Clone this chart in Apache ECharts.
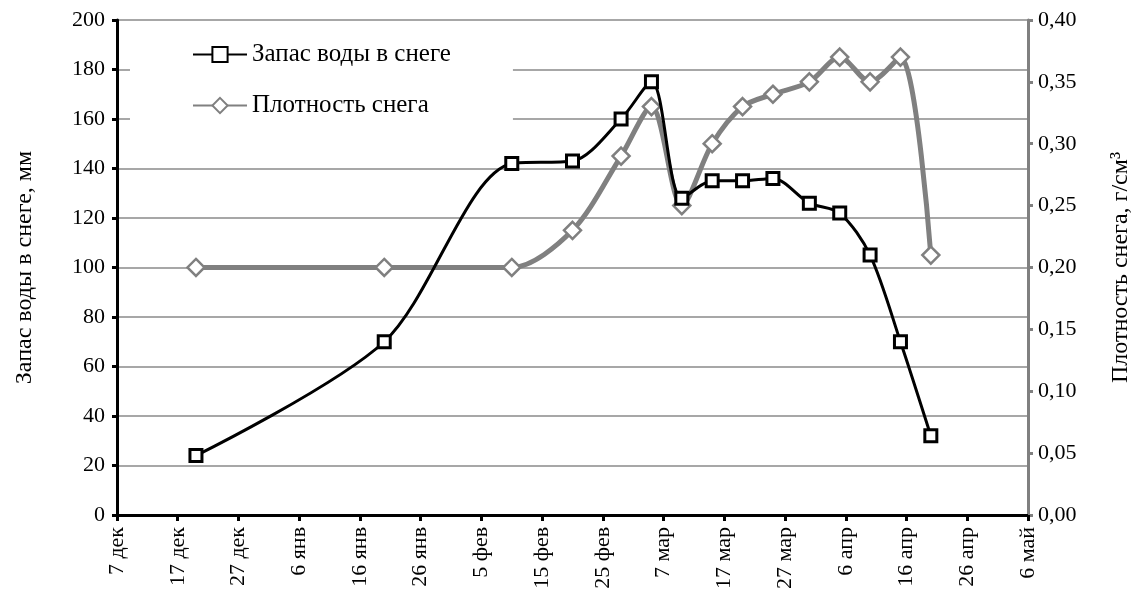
<!DOCTYPE html>
<html>
<head>
<meta charset="utf-8">
<script src="https://cdn.jsdelivr.net/npm/echarts@6/dist/echarts.min.js"></script>
<style>
  html, body { margin: 0; padding: 0; background: #fff; }
  #chart { width: 1141px; height: 592px; }
</style>
</head>
<body>
<div id="chart"></div>
<script>
// дни от 7 декабря
var days = [13, 44, 65, 75, 83, 88, 93, 98, 103, 108, 114, 119, 124, 129, 134];
var waterStock = [24, 70, 142, 143, 160, 175, 128, 135, 135, 136, 126, 122, 105, 70, 32];
var snowDensity = [0.20, 0.20, 0.20, 0.23, 0.29, 0.33, 0.25, 0.30, 0.33, 0.34, 0.35, 0.37, 0.35, 0.37, 0.21];
var tickLabels = ['7 дек', '17 дек', '27 дек', '6 янв', '16 янв', '26 янв', '5 фев', '15 фев',
    '25 фев', '7 мар', '17 мар', '27 мар', '6 апр', '16 апр', '26 апр', '6 май'];

var font = 'Liberation Serif';
var myChart = echarts.init(document.getElementById('chart'));

var option = {
    textStyle: { fontFamily: font, color: '#000' },
    animation: false,
    grid: { left: 117, right: 93, top: 20, bottom: 77 },
    legend: {
        orient: 'vertical',
        left: 130,
        top: 28,
        padding: [14, 62, 28, 62],
        backgroundColor: '#fff',
        itemWidth: 54,
        itemHeight: 19,
        itemGap: 26,
        textStyle: { fontFamily: font, fontSize: 25, color: '#000' },
        data: ['Запас воды в снеге', 'Плотность снега']
    },
    xAxis: {
        type: 'value',
        min: 0,
        max: 150,
        interval: 10,
        axisLine: { lineStyle: { color: '#000', width: 3 } },
        axisTick: { length: 6, lineStyle: { color: '#000', width: 3 } },
        splitLine: { show: false },
        axisLabel: {
            rotate: 90,
            fontSize: 22,
            margin: 12,
            color: '#000',
            fontFamily: font,
            formatter: function (v) { return tickLabels[Math.round(v / 10)]; }
        }
    },
    yAxis: [{
        type: 'value',
        min: 0,
        max: 200,
        interval: 20,
        name: 'Запас воды в снеге, мм',
        nameLocation: 'middle',
        nameRotate: 90,
        nameGap: 80,
        nameTextStyle: { fontSize: 24, fontFamily: font, color: '#000' },
        axisLine: { show: true, lineStyle: { color: '#000', width: 3 } },
        axisTick: { show: true, length: 5, lineStyle: { color: '#000', width: 3 } },
        axisLabel: { fontSize: 22, margin: 12, color: '#000', fontFamily: font },
        splitLine: { lineStyle: { color: '#8a8a8a', width: 1.5 } }
    }, {
        type: 'value',
        position: 'right',
        min: 0,
        max: 0.4,
        interval: 0.05,
        name: 'Плотность снега, г/см³',
        nameLocation: 'middle',
        nameRotate: 90,
        nameGap: 81,
        nameTextStyle: { fontSize: 24, fontFamily: font, color: '#000' },
        axisLine: { show: true, lineStyle: { color: '#808080', width: 3 } },
        axisTick: { show: true, length: 5, lineStyle: { color: '#808080', width: 3 } },
        axisLabel: {
            fontSize: 22, margin: 10, color: '#000', fontFamily: font,
            formatter: function (v) { return v.toFixed(2).replace('.', ','); }
        },
        splitLine: { show: false }
    }],
    series: [{
        name: 'Запас воды в снеге',
        type: 'line',
        yAxisIndex: 0,
        smooth: 0.3,
        z: 3,
        symbol: 'rect',
        symbolSize: 12,
        lineStyle: { color: '#000', width: 3 },
        itemStyle: { color: '#fff', borderColor: '#000', borderWidth: 3 },
        data: days.map(function (d, i) { return [d, waterStock[i]]; })
    }, {
        name: 'Плотность снега',
        type: 'line',
        yAxisIndex: 1,
        smooth: 0.3,
        z: 2,
        symbol: 'diamond',
        symbolSize: 17,
        lineStyle: { color: '#808080', width: 5 },
        itemStyle: { color: '#fff', borderColor: '#808080', borderWidth: 2.5 },
        data: days.map(function (d, i) { return [d, snowDensity[i]]; })
    }]
};

myChart.setOption(option);
window.addEventListener('resize', function () { myChart.resize(); });
</script>
</body>
</html>
